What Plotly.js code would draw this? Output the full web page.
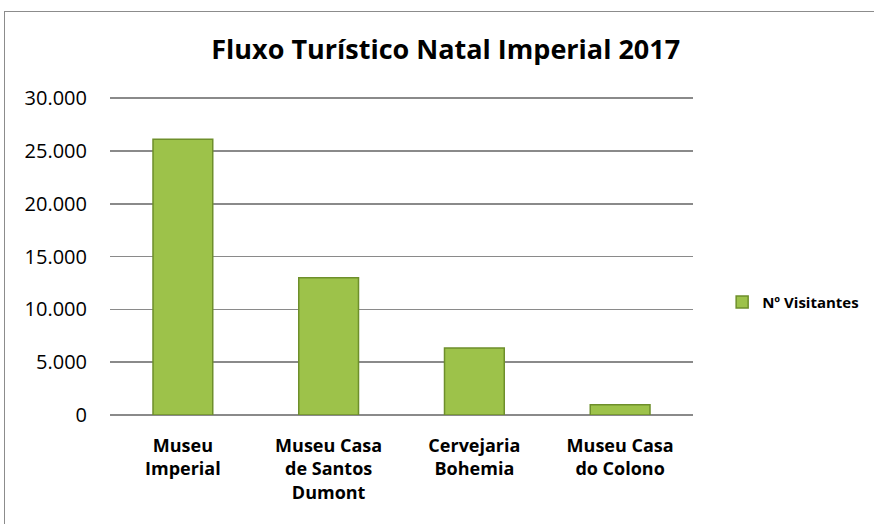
<!DOCTYPE html>
<html>
<head>
<meta charset="utf-8">
<script src="https://cdn.plot.ly/plotly-3.0.1.min.js"></script>
<style>
html,body{margin:0;padding:0;background:#fff;}
#frame{position:absolute;left:4px;top:11px;width:900px;height:540px;border:1px solid #8c8c8c;box-sizing:border-box;}
#chart{position:absolute;left:0;top:0;width:874px;height:524px;}
</style>
</head>
<body>
<div id="frame"></div>
<div id="chart"></div>
<script>
const categories = ["Museu<br>Imperial", "Museu Casa<br>de Santos<br>Dumont", "Cervejaria<br>Bohemia", "Museu Casa<br>do Colono"];
const visitantes = [26100, 13000, 6350, 980];
const seriesName = "Nº Visitantes";
const yTicks = [0, 5000, 10000, 15000, 20000, 25000, 30000];

const fontFam = "'Open Sans', Lato, sans-serif";

const trace = {
  type: "bar",
  x: categories,
  y: visitantes,
  name: seriesName,
  marker: {color: "#9dc24a", line: {color: "#6e8f2b", width: 1.5}},
  hoverinfo: "x+y"
};

const layout = {
  width: 874, height: 524,
  paper_bgcolor: "rgba(0,0,0,0)",
  plot_bgcolor: "rgba(0,0,0,0)",
  margin: {l: 110, r: 181, t: 95, b: 109, autoexpand: false},
  separators: ",.",
  font: {family: fontFam, color: "#000", size: 16},
  title: {text: "Fluxo Turístico Natal Imperial 2017", x: 0.51, xanchor: "center", y: 0.905, yanchor: "middle", font: {size: 27, family: fontFam, color: "#000", weight: "bold"}},
  bargap: 0.59,
  showlegend: true,
  legend: {x: 1.05, y: 0.352, xanchor: "left", yanchor: "middle", font: {size: 15, family: fontFam, weight: "bold"}, itemwidth: 30},
  xaxis: {
    type: "category",
    showline: false, showgrid: false, zeroline: false,
    tickfont: {size: 18, family: fontFam, weight: "bold"},
    ticks: "", ticklabelstandoff: 18
  },
  yaxis: {
    range: [0, 30300],
    tickvals: yTicks,
    tickformat: ",d",
    showgrid: true, gridcolor: "#8a8a8a", gridwidth: 1.5,
    zeroline: true, zerolinecolor: "#8a8a8a", zerolinewidth: 1.5,
    showline: false, ticks: "",
    tickfont: {size: 20, family: fontFam},
    ticklabelstandoff: 22
  }
};

Plotly.newPlot("chart", [trace], layout, {displayModeBar: false, staticPlot: true});
</script>
</body>
</html>
